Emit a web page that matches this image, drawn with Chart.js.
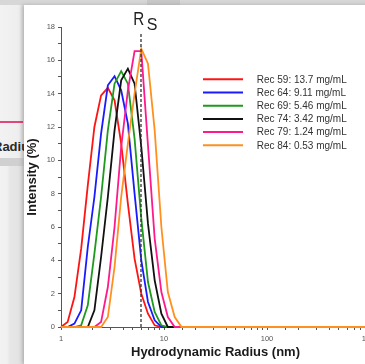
<!DOCTYPE html>
<html>
<head>
<meta charset="utf-8">
<script src="https://cdn.jsdelivr.net/npm/chart.js@4.4.0/dist/chart.umd.min.js"></script>
<style>
  html, body { margin: 0; padding: 0; }
  body {
    width: 365px; height: 364px; overflow: hidden; position: relative;
    background: #e4e4e4; font-family: "Liberation Sans", Arial, sans-serif;
  }
  .topband { position: absolute; left: 0; top: 0; width: 365px; height: 5px; background: #d7d7d7; }
  .topblock { position: absolute; left: 147px; top: 0; width: 33px; height: 5px; background: #c8c8c8; }
  .side { position: absolute; left: 0; top: 5px; width: 24px; height: 153px;
    background: linear-gradient(to right, #f2f2f2 0%, #eeeeee 80%, #dadada 100%); }
  .pinkline { position: absolute; left: 0; top: 121px; width: 23px; height: 2px; background: #e3457f; }
  .sidelabel { position: absolute; left: -7px; top: 140px; font-weight: bold; font-size: 13px;
    line-height: 13px; color: #2a2a2a; white-space: nowrap; }
  .band { position: absolute; left: 0; top: 158px; width: 24px; height: 8px; background: #d0d0d0; }
  .lower { position: absolute; left: 0; top: 166px; width: 24px; height: 198px;
    background: linear-gradient(to right, #f2f2f2 0%, #f0f0f0 30%, #e7e7e7 40%, #e2e2e2 88%, #d6d6d6 100%); }
  .panel { position: absolute; left: 24px; top: 5px; width: 365px; height: 359px; background: #fff;
    box-shadow: -2px 0 4px rgba(0,0,0,0.18); }
  canvas { position: absolute; left: 0; top: 0; }
</style>
</head>
<body>
<div class="topband"></div>
<div class="topblock"></div>
<div class="side"></div>
<div class="pinkline"></div>
<div class="sidelabel">Radius</div>
<div class="band"></div>
<div class="lower"></div>
<div class="panel"><canvas id="myChart" width="365" height="359"></canvas></div>

<script>
// radius bins (nm), shared by every run
const radius = [1.00, 1.16, 1.35, 1.57, 1.82, 2.11, 2.45, 2.85, 3.31, 3.84, 4.46,
                5.18, 6.02, 6.99, 8.12, 9.43, 10.9, 12.7, 14.8, 17.2, 20.0, 1000];

// intensity (%) per bin
const rec59 = [0, 0.3, 1.8, 4.7, 8.5, 12.0, 13.9, 14.35, 13.6, 11.0, 7.4, 4.1, 2.0, 0.8, 0.1, 0, 0, 0, 0, 0, 0, 0];
const rec64 = [0, 0, 0.2, 1.0, 4.8, 7.8, 11.6, 14.5, 15.05, 14.2, 12.2, 8.0, 4.0, 1.5, 0.4, 0, 0, 0, 0, 0, 0, 0];
const rec69 = [0, 0, 0, 0.1, 1.3, 4.4, 7.8, 11.8, 14.6, 15.35, 14.6, 11.3, 6.5, 2.7, 0.9, 0.1, 0, 0, 0, 0, 0, 0];
const rec74 = [0, 0, 0, 0, 0, 1.0, 4.2, 7.8, 11.8, 14.8, 15.5, 14.6, 10.8, 6.2, 2.8, 0.8, 0, 0, 0, 0, 0, 0];
const rec79 = [0, 0, 0, 0, 0, 0, 0.3, 2.4, 6.0, 10.8, 14.2, 16.55, 16.55, 10.9, 5.3, 2.1, 0.6, 0, 0, 0, 0, 0];
const rec84 = [0, 0, 0, 0, 0, 0, 0, 0.6, 3.6, 7.8, 11.0, 14.0, 16.7, 15.8, 11.8, 6.0, 2.1, 0.6, 0, 0, 0, 0];

const seriesLabels = ['Rec 59: 13.7 mg/mL', 'Rec 64: 9.11 mg/mL', 'Rec 69: 5.46 mg/mL',
                      'Rec 74: 3.42 mg/mL', 'Rec 79: 1.24 mg/mL', 'Rec 84: 0.53 mg/mL'];
const seriesValues = [rec59, rec64, rec69, rec74, rec79, rec84];
const seriesColors = ['#ff1414', '#1a1aff', '#1e9a1e', '#111111', '#ff1a8c', '#ff9020'];

const xTickLabels = [1, 10, 100, 1000];
const yTickLabels = [0, 2, 4, 6, 8, 10, 12, 14, 16, 18];

// Stokes radius marker
const rsRadius = 5.98;
const rsTop = 17.7;

const FONT = '"Liberation Sans", Arial, sans-serif';
Chart.defaults.font.family = FONT;

const datasets = seriesValues.map((vals, i) => ({
    label: seriesLabels[i],
    data: vals.map((v, k) => ({ x: radius[k], y: v })),
    borderColor: seriesColors[i],
    borderWidth: 1.8,
    pointRadius: 0,
    tension: 0,
    fill: false,
    clip: 4,
    order: seriesValues.length - i
}));

datasets.push({
    label: 'Rs',
    data: [{ x: rsRadius, y: 0 }, { x: rsRadius, y: rsTop }],
    borderColor: '#333',
    borderWidth: 1.3,
    borderDash: [3, 2],
    pointRadius: 0,
    clip: 4,
    order: 0
});

// legend box and the R_s label
const extras = {
    id: 'extras',
    afterDraw(chart) {
        const ctx = chart.ctx;
        const lx = chart.scales.x.getPixelForValue(rsRadius);
        const top = chart.scales.y.getPixelForValue(rsTop);

        ctx.save();
        ctx.fillStyle = '#1e1e1e';
        ctx.textBaseline = 'alphabetic';
        ctx.textAlign = 'left';
        ctx.translate(lx - 7.7, top - 7);
        ctx.scale(0.8, 1);
        ctx.font = '19px ' + FONT;
        ctx.fillText('R', 0, 0);
        ctx.restore();

        ctx.save();
        ctx.fillStyle = '#1e1e1e';
        ctx.font = '16px ' + FONT;
        ctx.textBaseline = 'alphabetic';
        ctx.fillText('S', lx + 5.7, top - 2.4);
        ctx.restore();

        ctx.save();
        ctx.font = '10px ' + FONT;
        ctx.textBaseline = 'middle';
        ctx.fillStyle = '#333';
        seriesLabels.forEach((label, i) => {
            const y = 74.3 + i * 13.2;
            ctx.strokeStyle = seriesColors[i];
            ctx.lineWidth = 2;
            ctx.beginPath();
            ctx.moveTo(179, y);
            ctx.lineTo(219, y);
            ctx.stroke();
            ctx.fillText(label, 232.7, y + 0.5);
        });
        ctx.restore();
    }
};

const ctx = document.getElementById('myChart');
new Chart(ctx, {
    type: 'line',
    data: { datasets: datasets },
    options: {
        responsive: false,
        animation: false,
        layout: { padding: { left: 0, top: 22, right: 19, bottom: 0 } },
        plugins: { legend: { display: false }, tooltip: { enabled: false } },
        scales: {
            x: {
                type: 'logarithmic',
                min: 1,
                max: 1000,
                afterFit: (s) => { s.height = 37; },
                grid: { drawOnChartArea: false, tickLength: 3, color: '#555' },
                border: { color: '#555', width: 1 },
                ticks: {
                    autoSkip: false,
                    maxRotation: 0,
                    padding: 4,
                    color: '#555',
                    font: { size: 7.5 },
                    callback: (v) => xTickLabels.includes(v) ? String(v) : ''
                },
                title: {
                    display: true,
                    text: 'Hydrodynamic Radius (nm)',
                    color: '#1a1a1a',
                    font: { size: 13, weight: 'bold' },
                    padding: { top: 0, bottom: 3.5 }
                }
            },
            y: {
                min: 0,
                max: 18,
                afterFit: (s) => { s.width = 37; },
                grid: { drawOnChartArea: false, tickLength: 3, color: '#555' },
                border: { color: '#555', width: 1 },
                ticks: {
                    stepSize: 1,
                    padding: 3,
                    color: '#555',
                    font: { size: 7.5 },
                    callback: (v) => yTickLabels.includes(v) ? String(v) : ''
                },
                title: {
                    display: true,
                    text: 'Intensity (%)',
                    color: '#1a1a1a',
                    font: { size: 13, weight: 'bold' },
                    padding: { top: 1, bottom: 0 }
                }
            }
        }
    },
    plugins: [extras]
});
</script>
</body>
</html>
